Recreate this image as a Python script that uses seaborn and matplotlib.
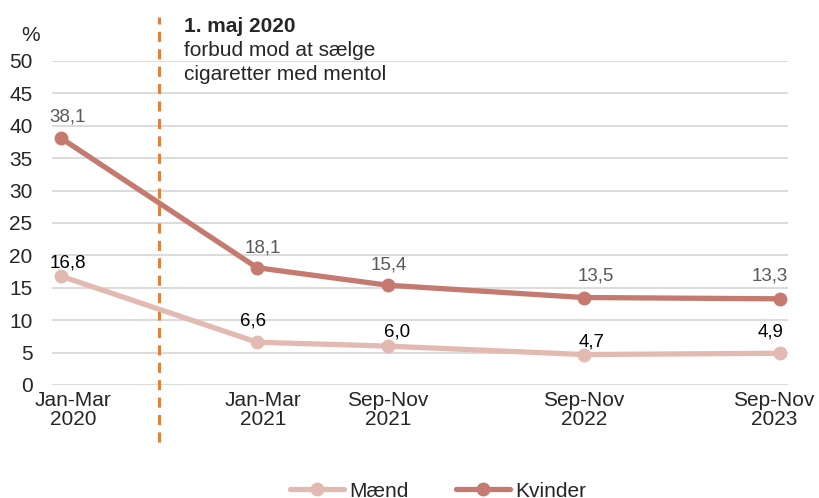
import pandas as pd
import matplotlib.pyplot as plt
import matplotlib.transforms as mtransforms
import seaborn as sns

# -----------------------------------------------------
# DATA
# -----------------------------------------------------
periods = ["Jan-Mar\n2020", "Jan-Mar\n2021", "Sep-Nov\n2021", "Sep-Nov\n2022", "Sep-Nov\n2023"]
months = [0, 12, 20, 32, 44]  # months since Jan-Mar 2020
maend = [16.8, 6.6, 6.0, 4.7, 4.9]
kvinder = [38.1, 18.1, 15.4, 13.5, 13.3]
ban_month = 6
yticks = list(range(0, 55, 5))

df = pd.DataFrame({
    "month": months * 2,
    "value": maend + kvinder,
    "group": ["Mænd"] * len(months) + ["Kvinder"] * len(months),
})

# label nudges in pixels (dx, dy) - mimic the hand placed labels
nudge = {
    "Mænd": [(7, 13), (-4, 21), (9, 14), (8, 13), (-9, 21)],
    "Kvinder": [(7, 21), (6, 20), (1, 20), (12, 22), (-10, 23)],
}
tick_nudge = [12, 6, 0, 0, -6]

# -----------------------------------------------------
sns.set_style("white")
plt.rcParams["font.family"] = ["Liberation Sans", "DejaVu Sans"]

colors = {"Mænd": "#e2bab1", "Kvinder": "#c47a6e"}
label_colors = {"Mænd": "#000000", "Kvinder": "#595959"}
FS = 15

fig = plt.figure(figsize=(8.19, 4.98), dpi=100)
ax = fig.add_axes([52 / 819, 1 - 385 / 498, (788 - 52) / 819, (385 - 61) / 498])

for y in yticks:
    ax.axhline(y, color="#d9d9d9", lw=1.3, zorder=0)

sns.lineplot(data=df, x="month", y="value", hue="group", palette=colors,
             hue_order=["Mænd", "Kvinder"], marker="o", markersize=10,
             markeredgewidth=0, linewidth=3.8, ax=ax, legend=False)

# data labels
for grp, vals in [("Mænd", maend), ("Kvinder", kvinder)]:
    for (dx, dy), m, v in zip(nudge[grp], months, vals):
        ax.annotate(f"{v:.1f}".replace(".", ","), (m, v), xytext=(dx, dy),
                    textcoords="offset pixels", ha="center", va="center",
                    fontsize=13.5, color=label_colors[grp])

# ban marker
ax.plot([ban_month, ban_month], [-8.8, 56.8], ls=(0, (3.3, 2.4)), color="#e3803a",
        lw=2.2, clip_on=False, zorder=1)
ax.text(ban_month + 1.5, 55.3, "1. maj 2020", fontsize=FS, fontweight="bold",
        ha="left", va="center")
ax.text(ban_month + 1.5, 51.6, "forbud mod at sælge", fontsize=FS,
        ha="left", va="center")
ax.text(ban_month + 1.5, 47.9, "cigaretter med mentol", fontsize=FS,
        ha="left", va="center")

ax.set_xlim(-0.55, 44.5)
ax.set_ylim(0, 50)
ax.set_xticks(months)
ax.set_xticklabels(periods, fontsize=FS, linespacing=1.05)
ax.set_yticks(yticks)
ax.set_yticklabels([str(y) for y in yticks], fontsize=FS)
ax.tick_params(axis="y", length=0, pad=14)
ax.tick_params(axis="x", length=0, pad=4)
for lbl, dx in zip(ax.get_xticklabels(), tick_nudge):
    lbl.set_transform(lbl.get_transform() +
                      mtransforms.ScaledTranslation(dx / 100, 0, fig.dpi_scale_trans))
ax.set_xlabel("")
ax.set_ylabel("")
ax.text(-1.84, 54.0, "%", fontsize=FS, ha="center", va="center")
sns.despine(ax=ax, left=True, bottom=True)

# legend
handles = [plt.Line2D([], [], color=colors[g], lw=3.8, marker="o", markersize=10,
                      markeredgewidth=0) for g in ["Mænd", "Kvinder"]]
fig.legend(handles, ["Mænd", "Kvinder"], loc="center", bbox_to_anchor=(0.535, 0.014),
           ncol=2, frameon=False, fontsize=FS, handlelength=2.6,
           columnspacing=2.3, handletextpad=0.25, borderpad=0, borderaxespad=0)

fig.savefig("out.png", dpi=100)
